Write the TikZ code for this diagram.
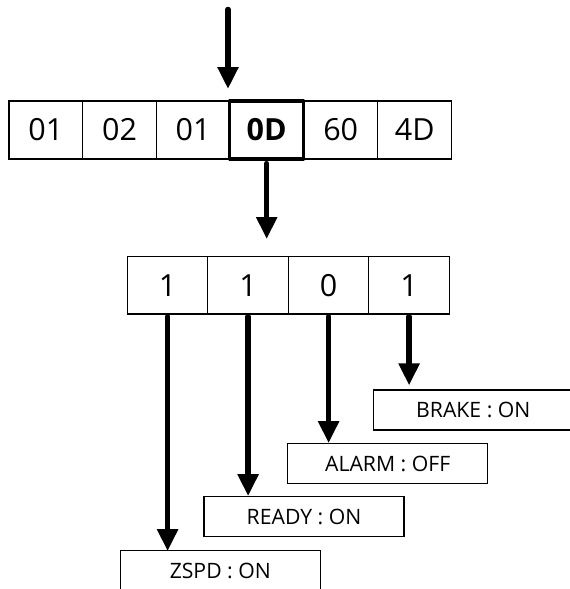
\documentclass[tikz,border=0pt]{standalone}
\usepackage{fontspec}
\setmainfont{Open Sans}
\usetikzlibrary{arrows.meta}
\tikzset{
  cell/.style={draw=black, line width=1.2pt, minimum width=73.8pt, minimum height=58pt, inner sep=0pt, font=\fontsize{30.5}{32}\selectfont},
  bitcell/.style={draw=black, line width=1.2pt, minimum width=80.5pt, minimum height=57.3pt, inner sep=0pt, font=\fontsize{30.5}{32}\selectfont},
  hot/.style={draw=black, line width=3.2pt, line join=round, minimum width=73.8pt, minimum height=58pt, inner sep=0pt, font=\bfseries\fontsize{30.5}{32}\selectfont},
  lab/.style={draw=black, line width=1.2pt, minimum width=200pt, minimum height=40pt, inner sep=0pt, font=\fontsize{21.2}{23}\selectfont},
  bigarrow/.style={line width=5.5pt, line cap=round, -{Triangle[width=20pt,length=22pt]}},
}
\begin{document}
\begin{tikzpicture}[x=1pt,y=-1pt]
\clip (0,0) rectangle (570,589);
\fill[white] (0,0) rectangle (570,589);
% top row
\node[cell] (c1) at (45.9,130) {01};
\node[cell] (c2) at (119.5,130) {02};
\node[cell] (c3) at (193.0,130) {01};
\node[cell] (c5) at (340.7,130) {60};
\node[cell] (c6) at (414.7,130) {4D};
\node[hot]  (c4) at (266.7,130) {0D};
% bits
\node[bitcell] (b1) at (167.6,285.4) {1};
\node[bitcell] (b2) at (248.1,285.4) {1};
\node[bitcell] (b3) at (328.6,285.4) {0};
\node[bitcell] (b4) at (409.1,285.4) {1};
% labels
\node[lab] (l4) at (473.3,410) {BRAKE : ON};
\node[lab] (l3) at (387.7,463.7) {ALARM : OFF};
\node[lab] (l2) at (304,516.7) {READY : ON};
\node[lab] (l1) at (220.3,570.7) {ZSPD : ON};
% coordinates
\coordinate (in) at (228,9.5);
\coordinate (intip) at (228,89);
\coordinate (outtip) at (266.7,239);
% arrows
\draw[bigarrow] (in) -- (intip);
\draw[bigarrow] ([yshift=-3pt]c4.south) -- (outtip);
\draw[bigarrow] ([yshift=-2pt]b4.south) -- ([yshift=4pt]b4.south |- l4.north);
\draw[bigarrow] ([yshift=-2pt]b3.south) -- (b3.south |- l3.north);
\draw[bigarrow] ([yshift=-2pt]b2.south) -- (b2.south |- l2.north);
\draw[bigarrow] ([yshift=-2pt]b1.south) -- ([yshift=-1pt]b1.south |- l1.north);
\end{tikzpicture}
\end{document}
